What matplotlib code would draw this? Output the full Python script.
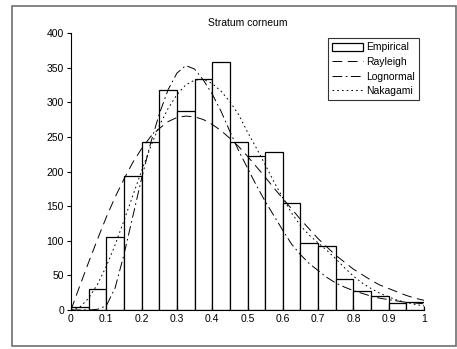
import matplotlib
matplotlib.use("Agg")
import matplotlib.pyplot as plt
from matplotlib.patches import Rectangle
import numpy as np

plt.rcParams['font.family'] = ['Liberation Sans', 'DejaVu Sans']
plt.rcParams['lines.scale_dashes'] = False

# Histogram (bin edges start, counts)
bin_left = [0.00, 0.05, 0.10, 0.15, 0.20, 0.25, 0.30, 0.35, 0.40, 0.45,
            0.50, 0.55, 0.60, 0.65, 0.70, 0.75, 0.80, 0.85, 0.90, 0.95]
counts = [5, 30, 105, 193, 242, 318, 288, 333, 358, 242,
          223, 228, 154, 97, 93, 45, 28, 20, 10, 12]
bin_width = 0.05

# Fitted curves
x_curve = [0.0, 0.025, 0.05, 0.075, 0.1, 0.125, 0.15, 0.175, 0.2, 0.225,
           0.25, 0.275, 0.3, 0.325, 0.35, 0.375, 0.4, 0.425, 0.45, 0.475,
           0.5, 0.525, 0.55, 0.575, 0.6, 0.625, 0.65, 0.675, 0.7, 0.725,
           0.75, 0.775, 0.8, 0.825, 0.85, 0.875, 0.9, 0.925, 0.95, 0.975, 1.0]
rayleigh = [0, 35, 69, 102, 134, 163, 189, 213, 233, 250,
            262, 272, 278, 280, 279, 275, 268, 259, 248, 236,
            222, 207, 192, 176, 161, 146, 131, 117, 103, 91,
            79, 69, 59, 51, 43, 36, 31, 26, 21, 17, 14]
lognormal = [0, 0, 0, 1, 6, 32, 80, 135, 190, 240,
             283, 318, 342, 353, 348, 332, 312, 287, 258, 230,
             205, 180, 157, 136, 115, 95, 80, 67, 57, 47,
             39, 33, 28, 24, 20, 17, 15, 13, 11, 10, 9]
nakagami = [0, 4, 17, 37, 63, 94, 129, 165, 201, 235,
            266, 291, 311, 325, 332, 333, 327, 316, 301, 282,
            257, 234, 210, 185, 162, 140, 122, 108, 97, 86,
            74, 61, 49, 39, 31, 24, 19, 14, 11, 8, 6]

x_ticks = [0, 0.1, 0.2, 0.3, 0.4, 0.5, 0.6, 0.7, 0.8, 0.9, 1]
x_ticklabels = ['0', '0.1', '0.2', '0.3', '0.4', '0.5', '0.6', '0.7', '0.8', '0.9', '1']
y_ticks = [0, 50, 100, 150, 200, 250, 300, 350, 400]

fig = plt.figure(figsize=(4.57, 3.49), dpi=100)
fig.patch.set_facecolor('white')
# outer frame
fig.add_artist(Rectangle((12/457, 1-346/349), (456-12)/457, (346-6)/349,
                         transform=fig.transFigure, fill=False,
                         edgecolor='#6f6f6f', linewidth=1.2))

ax = fig.add_axes([71/457, 1-310/349, (424-71)/457, (310-33)/349])
bars = ax.bar(bin_left, counts, width=bin_width, align='edge', facecolor='white',
              edgecolor='black', linewidth=0.9)
l1, = ax.plot(x_curve, rayleigh, color='black', linewidth=0.7, dashes=(7, 4))
l2, = ax.plot(x_curve, lognormal, color='black', linewidth=0.7, dashes=(7, 2.5, 1.2, 2.5))
l3, = ax.plot(x_curve, nakagami, color='black', linewidth=0.7, dashes=(1.2, 2.2))

ax.set_xlim(0, 1)
ax.set_ylim(0, 400)
ax.set_xticks(x_ticks)
ax.set_xticklabels(x_ticklabels)
ax.set_yticks(y_ticks)
for s in ['top', 'right']:
    ax.spines[s].set_visible(False)
for s in ['left', 'bottom']:
    ax.spines[s].set_linewidth(0.8)
ax.tick_params(axis='y', direction='out', length=3, width=0.8, labelsize=7.5, pad=2)
ax.tick_params(axis='x', direction='in', length=3, width=0.8, labelsize=7.5, pad=3)
ax.set_title('Stratum corneum', fontsize=7.5, pad=5)

leg = ax.legend([bars, l1, l2, l3], ['Empirical', 'Rayleigh', 'Lognormal', 'Nakagami'],
                loc='upper right', bbox_to_anchor=(1 - 5/353, 1 - 5/277),
                borderaxespad=0, fontsize=7.5, frameon=True, fancybox=False,
                edgecolor='black', handlelength=3.0, handleheight=0.8,
                handletextpad=0.3, labelspacing=0.45, borderpad=0.4)
leg.get_frame().set_linewidth(0.8)

fig.savefig('out.png', dpi=100)
